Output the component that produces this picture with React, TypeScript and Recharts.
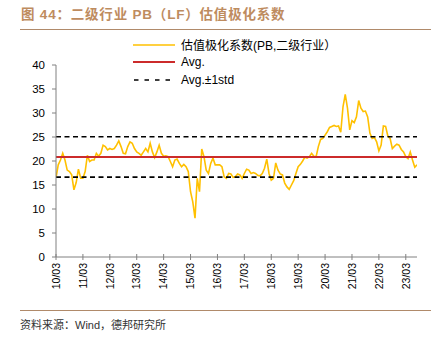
import React from "react";
import { LineChart, Line, XAxis, YAxis, ReferenceLine } from "recharts";

// Monthly valuation polarization coefficient, 2010-03 .. 2023-08
const values: number[] = [
  16.5, 19.2, 20.2, 21.6, 20.2, 18.1, 17.8, 17.1, 14.0, 15.5, 18.3, 16.4,
  16.4, 17.8, 21.2, 19.9, 20.2, 20.2, 21.6, 21.0, 21.6, 23.3, 23.0, 22.3,
  22.6, 22.4, 22.6, 23.3, 24.2, 23.0, 21.6, 21.5, 23.0, 24.0, 23.7, 22.6,
  21.9, 21.6, 21.2, 21.9, 22.6, 21.9, 23.7, 21.9, 20.7, 21.9, 23.3, 21.6,
  21.0, 21.1, 20.9, 19.9, 18.8, 20.2, 20.4, 19.5, 18.8, 19.3, 18.8, 17.8,
  13.6, 11.5, 8.1, 16.4, 13.6, 22.5, 20.9, 18.1, 17.4, 19.5, 20.6, 19.2,
  19.2, 19.2, 18.8, 16.7, 16.4, 17.4, 17.3, 16.6, 16.7, 17.3, 17.1, 16.4,
  17.4, 18.3, 18.1, 17.4, 17.6, 17.4, 17.0, 16.9, 17.4, 18.5, 20.4, 17.4,
  16.0, 16.4, 19.6, 18.1, 17.3, 17.1, 15.4, 14.6, 14.1, 15.0, 15.9, 17.4,
  18.8, 19.3, 20.0, 20.8, 20.6, 20.9, 21.6, 21.0, 20.9, 23.0, 24.5, 24.7,
  25.4, 26.1, 27.0, 27.2, 27.4, 27.2, 27.3, 26.0, 31.3, 33.9, 31.0, 26.5,
  28.4, 28.0, 29.2, 32.6, 31.0, 30.3, 30.4, 29.2, 25.8, 24.7, 24.9, 24.0,
  22.1, 23.3, 27.3, 27.2, 25.2, 24.7, 22.6, 23.1, 23.5, 23.3, 22.4, 21.9,
  20.9, 20.5, 21.9, 20.2, 18.7, 19.2,
];

const xTickLabels: string[] = [
  "10/03", "11/03", "12/03", "13/03", "14/03", "15/03", "16/03",
  "17/03", "18/03", "19/03", "20/03", "21/03", "22/03", "23/03",
];
const yTicks: number[] = [0, 5, 10, 15, 20, 25, 30, 35, 40];

const avgValue = 20.85;
const stdValue = 4.2;

const seriesName = "估值极化系数(PB,二级行业）";

const data = values.map((v, i) => ({ i, v }));
const xTicks = xTickLabels.map((_, k) => k * 12);

const FONT = "'Liberation Sans', Arial, sans-serif";
const CJK = "'Liberation Sans', 'Noto Sans CJK SC', sans-serif";

const XTick = (props: any) => {
  const { x, y, payload } = props;
  const idx = Math.round(payload.value / 12);
  return (
    <g>
      <line x1={x} x2={x} y1={y - 3} y2={y + 3} stroke="#808080" strokeWidth={1} />
      <text
        x={x}
        y={y + 6}
        transform={`rotate(-90, ${x}, ${y + 6})`}
        textAnchor="end"
        dy="0.36em"
        fontSize={10.5}
        fontFamily={FONT}
        fill="#000"
      >
        {xTickLabels[idx]}
      </text>
    </g>
  );
};

const LegendRow = ({ kind, label }: { kind: string; label: string }) => (
  <div style={{ display: "flex", alignItems: "center", height: 17.5 }}>
    <svg width={42} height={6} style={{ marginRight: 6 }}>
      {kind === "main" && <line x1={0} x2={42} y1={3} y2={3} stroke="#FFC000" strokeWidth={1.6} />}
      {kind === "avg" && <line x1={0} x2={42} y1={3} y2={3} stroke="#CC2B2B" strokeWidth={1.8} />}
      {kind === "std" && (
        <line x1={1} x2={42} y1={3} y2={3} stroke="#000" strokeWidth={1.6} strokeDasharray="4.5 6" />
      )}
    </svg>
    <span style={{ fontSize: 12, fontFamily: CJK, color: "#000", whiteSpace: "nowrap" }}>{label}</span>
  </div>
);

export default function App() {
  return (
    <div style={{ position: "absolute", left: 0, top: 0, width: 444, height: 339, background: "#fff", overflow: "hidden" }}>
      <div
        style={{
          position: "absolute",
          left: 21,
          top: 6,
          fontSize: 13.5,
          lineHeight: "18px",
          fontWeight: "bold",
          letterSpacing: 0.8,
          color: "#BE8C5F",
          fontFamily: CJK,
          whiteSpace: "nowrap",
        }}
      >
        图 44：二级行业 PB（LF）估值极化系数
      </div>
      <div style={{ position: "absolute", left: 20, top: 28.5, width: 411, borderTop: "1.6px solid #B08A6A" }} />

      <LineChart
        width={444}
        height={339}
        data={data}
        margin={{ top: 65, right: 27, left: 0, bottom: 0 }}
      >
        <XAxis
          type="number"
          dataKey="i"
          domain={[0, values.length - 1]}
          ticks={xTicks}
          interval={0}
          tick={<XTick />}
          tickLine={false}
          tickSize={0}
          tickMargin={0}
          height={82}
          stroke="#808080"
          allowDataOverflow
        />
        <YAxis
          type="number"
          domain={[0, 40]}
          ticks={yTicks}
          interval={0}
          width={56}
          tickSize={4}
          tickMargin={7}
          stroke="#808080"
          tick={{ fill: "#000", fontSize: 11.5, fontFamily: FONT }}
        />
        <Line
          type="linear"
          dataKey="v"
          name={seriesName}
          stroke="#FFC000"
          strokeWidth={1.6}
          dot={false}
          activeDot={false}
          isAnimationActive={false}
        />
        <ReferenceLine y={avgValue + stdValue} stroke="#000" strokeWidth={1.6} strokeDasharray="5 3.5" />
        <ReferenceLine y={avgValue - stdValue} stroke="#000" strokeWidth={1.6} strokeDasharray="5 3.5" />
        <ReferenceLine y={avgValue} stroke="#CC2B2B" strokeWidth={2} />
      </LineChart>

      <div style={{ position: "absolute", left: 133, top: 36 }}>
        <LegendRow kind="main" label={seriesName} />
        <LegendRow kind="avg" label="Avg." />
        <LegendRow kind="std" label="Avg.±1std" />
      </div>

      <div style={{ position: "absolute", left: 20, top: 309.5, width: 411, borderTop: "1.6px solid #B08A6A" }} />
      <div
        style={{
          position: "absolute",
          left: 20,
          top: 317,
          fontSize: 11,
          lineHeight: "16px",
          color: "#333",
          fontFamily: CJK,
          whiteSpace: "nowrap",
        }}
      >
        资料来源：Wind，德邦研究所
      </div>
    </div>
  );
}
